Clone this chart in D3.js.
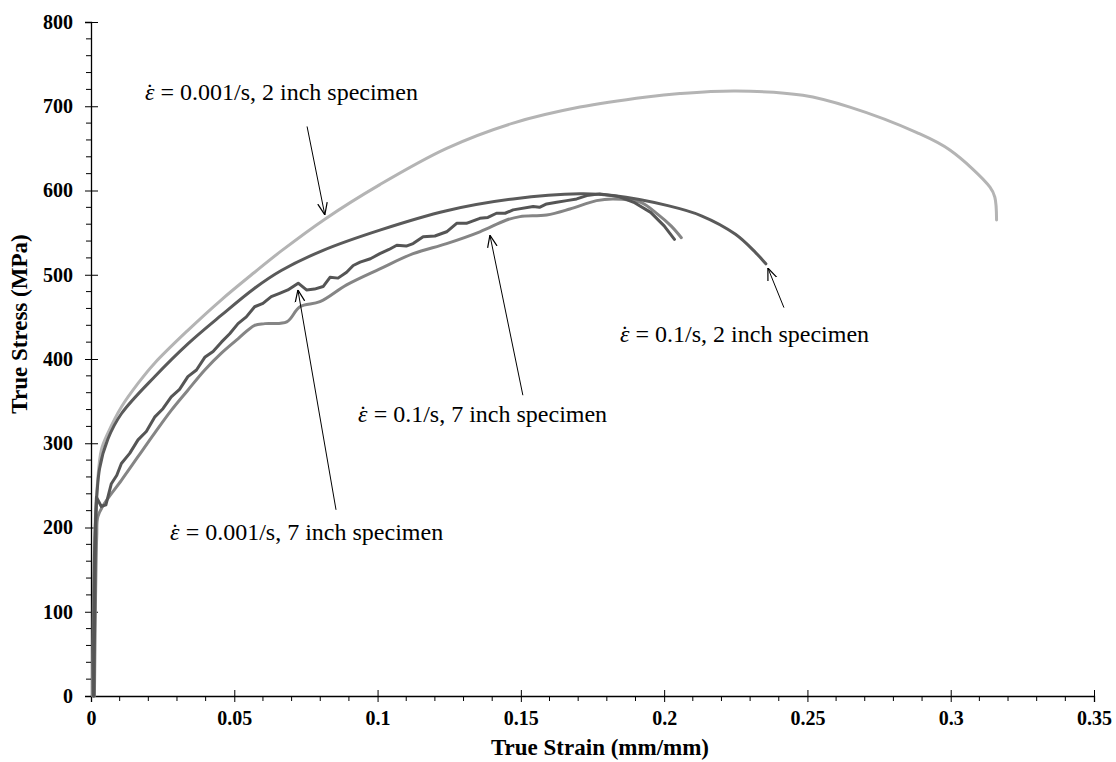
<!DOCTYPE html>
<html>
<head>
<meta charset="utf-8">
<script src="https://cdn.jsdelivr.net/npm/d3@7"></script>
<style>
  body { margin: 0; background: #fff; }
  svg { display: block; }
  .tick text { font-family: "Liberation Serif", "Times New Roman", serif; font-weight: bold; font-size: 20px; fill: #000; }
  .note { font-family: "Liberation Serif", "Times New Roman", serif; font-size: 24px; fill: #000; }
  .title { font-family: "Liberation Serif", "Times New Roman", serif; font-weight: bold; font-size: 23px; fill: #000; }
</style>
</head>
<body>
<div id="chart"></div>
<script>
// strain (mm/mm) and stress (MPa)
var strainA = [0.0006, 0.0012, 0.0022, 0.0036, 0.0059, 0.0106, 0.0164, 0.0222, 0.0338, 0.0454, 0.0571, 0.0663, 0.0816, 0.1008, 0.1241, 0.1473, 0.1706, 0.1939, 0.2055, 0.2250, 0.2484, 0.2648, 0.2880, 0.2997, 0.3137, 0.3154, 0.3160];
var stressA = [0, 180, 250, 292, 312, 343, 371, 395, 434, 470, 503, 528, 566, 607, 650, 680, 699, 711, 715, 718, 713, 699, 669, 648, 604, 592, 565];

var strainB = [0.0008, 0.0015, 0.0030, 0.0059, 0.0106, 0.0222, 0.0338, 0.0455, 0.0571, 0.0664, 0.0810, 0.1008, 0.1241, 0.1473, 0.1706, 0.1822, 0.2013, 0.2130, 0.2249, 0.2320, 0.2355];
var stressB = [0, 200, 270, 305, 335, 379, 418, 452, 484, 505, 529, 553, 576, 590, 596, 594, 582, 570, 548, 526, 513];

var strainC = [0.0010, 0.0016, 0.0019, 0.0036, 0.0052, 0.0071, 0.0090, 0.0106, 0.0135, 0.0164, 0.0193, 0.0222, 0.0251, 0.0280, 0.0309, 0.0338, 0.0368, 0.0397, 0.0426, 0.0455, 0.0484, 0.0513, 0.0542, 0.0571, 0.0600, 0.0629, 0.0658, 0.0687, 0.0723, 0.0752, 0.0780, 0.0810, 0.0834, 0.0862, 0.0892, 0.0915, 0.0939, 0.0975, 0.1008, 0.1040, 0.1067, 0.1100, 0.1124, 0.1159, 0.1200, 0.1241, 0.1276, 0.1310, 0.1357, 0.1385, 0.1415, 0.1445, 0.1473, 0.1543, 0.1565, 0.1590, 0.1625, 0.1660, 0.1695, 0.1730, 0.1776, 0.1840, 0.1894, 0.1953, 0.2000, 0.2036];
var stressC = [0, 200, 236, 225, 227, 252, 262, 276, 288, 304, 314, 331, 341, 355, 364, 379, 387, 402, 409, 420, 430, 442, 450, 462, 466, 474, 478, 482, 490, 482, 483, 486, 497, 496, 503, 511, 515, 519, 525, 530, 535, 534, 537, 545, 546, 551, 561, 561, 567, 568, 573, 573, 577, 581, 580, 584, 586, 588, 590, 594, 596, 593, 586, 574, 558, 542];

var strainD = [0.0012, 0.0020, 0.0024, 0.0048, 0.0106, 0.0164, 0.0222, 0.0280, 0.0338, 0.0397, 0.0455, 0.0513, 0.0571, 0.0607, 0.0683, 0.0729, 0.0799, 0.0892, 0.1008, 0.1124, 0.1241, 0.1357, 0.1450, 0.1497, 0.1590, 0.1671, 0.1764, 0.1822, 0.1918, 0.1977, 0.2024, 0.2060];
var stressD = [0, 190, 213, 229, 256, 284, 312, 339, 363, 387, 407, 424, 440, 442, 444, 462, 468, 488, 507, 525, 537, 551, 565, 569, 571, 578, 588, 590, 586, 572, 558, 544];

var xTicks = [0, 0.05, 0.1, 0.15, 0.2, 0.25, 0.3, 0.35];
var xTickLabels = ["0", "0.05", "0.1", "0.15", "0.2", "0.25", "0.3", "0.35"];
var yTicks = [0, 100, 200, 300, 400, 500, 600, 700, 800];

// annotation labels: text, anchor point (strain, stress) and arrow tail/tip
var noteRates = ["0.001/s, 2 inch specimen", "0.1/s, 2 inch specimen", "0.1/s, 7 inch specimen", "0.001/s, 7 inch specimen"];
var noteAt = [[0.0188, 707], [0.1846, 420], [0.0932, 325], [0.0276, 185]];
var arrowTail = [[0.0754, 676], [0.2418, 461], [0.1507, 357], [0.0855, 221]];
var arrowTip = [[0.0816, 571], [0.2362, 508], [0.1392, 547], [0.0722, 482]];

var W = 1116, H = 762;
var margin = {left: 91, right: 22, top: 22, bottom: 66};

var svg = d3.select("#chart").append("svg")
    .attr("width", W)
    .attr("height", H)
    .style("background", "#fff");

var x = d3.scaleLinear().domain([0, 0.35]).range([margin.left, W - margin.right]);
var y = d3.scaleLinear().domain([0, 800]).range([H - margin.bottom, margin.top]);

svg.append("defs").append("marker")
    .attr("id", "arrow")
    .attr("viewBox", "0 0 10 10")
    .attr("refX", 10).attr("refY", 5)
    .attr("markerWidth", 12).attr("markerHeight", 12)
    .attr("markerUnits", "userSpaceOnUse")
    .attr("orient", "auto")
  .append("path")
    .attr("d", "M0,1 L10,5 L0,9")
    .attr("fill", "none")
    .attr("stroke", "#000")
    .attr("stroke-width", 1);

// axes
var x0 = y(0), y0 = x(0);

var xAxis = svg.append("g")
    .attr("transform", "translate(0," + x0 + ")")
    .call(d3.axisBottom(x).tickValues(xTicks).tickFormat(function(d, i) { return xTickLabels[i]; }).tickSize(6).tickPadding(9));
xAxis.selectAll(".tick line").attr("y1", -6).attr("stroke", "#000");
xAxis.select(".domain").attr("stroke", "#000").attr("stroke-width", 1.3);

var xMinor = d3.range(0, 36).map(function(i) { return i / 100; }).filter(function(d, i) { return i % 5 != 0; });
svg.append("g").selectAll("line").data(xMinor).enter().append("line")
    .attr("x1", function(d) { return x(d); }).attr("x2", function(d) { return x(d); })
    .attr("y1", x0).attr("y2", x0 + 5)
    .attr("stroke", "#000");

var yAxis = svg.append("g")
    .attr("transform", "translate(" + y0 + ",0)")
    .call(d3.axisLeft(y).tickValues(yTicks).tickSize(6).tickPadding(12));
yAxis.selectAll(".tick line").attr("x1", 7).attr("stroke", "#000");
yAxis.select(".domain").attr("stroke", "#000").attr("stroke-width", 1.3);

var yMinor = d3.range(0, 801, 20).filter(function(d) { return d % 100 != 0; });
svg.append("g").selectAll("line").data(yMinor).enter().append("line")
    .attr("x1", y0 - 5).attr("x2", y0)
    .attr("y1", function(d) { return y(d); }).attr("y2", function(d) { return y(d); })
    .attr("stroke", "#000");

svg.append("text").attr("class", "title")
    .attr("x", 600).attr("y", 755)
    .attr("text-anchor", "middle")
    .text("True Strain (mm/mm)");

svg.append("text").attr("class", "title")
    .attr("transform", "translate(27,324) rotate(-90)")
    .attr("text-anchor", "middle")
    .text("True Stress (MPa)");

// curves
var series = [
    {sx: strainA, sy: stressA, color: "#b4b4b4", curve: d3.curveCatmullRom},
    {sx: strainD, sy: stressD, color: "#858585", curve: d3.curveCatmullRom},
    {sx: strainB, sy: stressB, color: "#5a5a5a", curve: d3.curveCatmullRom},
    {sx: strainC, sy: stressC, color: "#555555", curve: d3.curveLinear}
];

series.forEach(function(s) {
    var pts = s.sx.map(function(v, i) { return [v, s.sy[i]]; });
    var line = d3.line()
        .x(function(d) { return x(d[0]); })
        .y(function(d) { return y(d[1]); })
        .curve(s.curve);
    svg.append("path")
        .datum(pts)
        .attr("fill", "none")
        .attr("stroke", s.color)
        .attr("stroke-width", 3)
        .attr("stroke-linejoin", "round")
        .attr("stroke-linecap", "round")
        .attr("d", line);
});

// arrows and labels
arrowTail.forEach(function(t, i) {
    svg.append("line")
        .attr("x1", x(t[0])).attr("y1", y(t[1]))
        .attr("x2", x(arrowTip[i][0])).attr("y2", y(arrowTip[i][1]))
        .attr("stroke", "#000").attr("stroke-width", 1)
        .attr("marker-end", "url(#arrow)");
});

noteRates.forEach(function(txt, i) {
    var t = svg.append("text").attr("class", "note")
        .attr("x", x(noteAt[i][0])).attr("y", y(noteAt[i][1]));
    t.append("tspan").style("font-style", "italic").text("\u03b5");
    t.append("tspan").attr("dx", "-0.36em").text("\u02d9");
    t.append("tspan").attr("dx", "0.03em").text(" = " + txt);
});
</script>
</body>
</html>
